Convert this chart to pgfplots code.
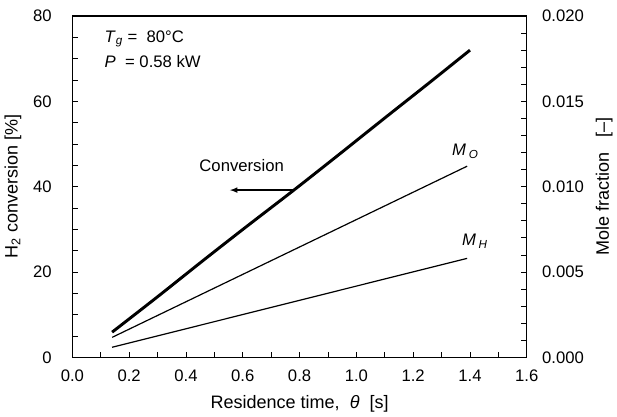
\documentclass[border=0pt]{standalone}
\usepackage{fontspec}
\setmainfont{Liberation Sans}
\usepackage{pgfplots}
\pgfplotsset{compat=1.18}

\begin{document}
\begin{tikzpicture}
\pgfplotsset{
  every axis/.append style={
    font=\fontsize{12.5}{14}\selectfont,
    scale only axis,
    width=340.5pt, height=255.75pt,
    xmin=0, xmax=1.6,
    tick align=inside,
    /pgf/number format/assume math mode=true,
    axis line style={line width=0.8pt},
    tick style={black, line width=0.6pt},
    major tick length=4pt, minor tick length=4pt,
    label style={font=\fontsize{13.5}{16}\selectfont},
  },
}
\begin{axis}[
  name=main,
  xtick pos=bottom, ytick pos=left,
  ymin=0, ymax=80,
  ytick={0,20,40,60,80},
  minor ytick={5,10,...,75},
  xtick={0,0.2,...,1.6},
  minor xtick={0.1,0.3,...,1.5},
  xticklabel style={yshift=-6pt, /pgf/number format/.cd, fixed, fixed zerofill, precision=1},
  yticklabel style={xshift=-12pt},
  xlabel={Residence time,\ \ \textit{θ}\ \ [s]},
  ylabel={H\textsubscript{2} conversion [\%]},
  xlabel style={yshift=-3pt},
  ylabel style={yshift=2pt},
]
\addplot[black, line width=2.2pt, smooth] coordinates {
  (0.14,5.9) (0.30,14.2) (0.47,23.2) (0.62,31.0) (0.78,39.2)
  (0.94,47.6) (1.10,56.1) (1.25,64.0) (1.40,72.0)
};
\draw[black, line width=0.9pt, -latex] (axis cs:0.779,39.2) -- (axis cs:0.555,39.2);
\node at (axis cs:0.596,45.0) {Conversion};
\node[anchor=west, inner sep=0pt] at (axis cs:0.113,74.6) {\textit{T}\textsubscript{\textit{g}} =\ \ 80\textdegree C};
\node[anchor=west, inner sep=0pt] at (axis cs:0.113,69.3) {\textit{P}\ \ = 0.58 kW};
\node[anchor=west, inner sep=0pt] at (axis cs:1.336,48.3) {\textit{M}\,\textsubscript{\textit{O}}};
\node[anchor=west, inner sep=0pt] at (axis cs:1.371,27.2) {\textit{M}\,\textsubscript{\textit{H}}};
\end{axis}
\begin{axis}[
  axis y line*=right, axis x line=none,
  ymin=0, ymax=0.020,
  ytick={0,0.005,0.010,0.015,0.020},
  minor ytick={0.001,0.002,...,0.019},
  scaled y ticks=false,
  yticklabel style={xshift=8pt, /pgf/number format/.cd, fixed, fixed zerofill, precision=3},
  ylabel={Mole fraction\ \ \ [--]},
  ylabel style={yshift=-2pt},
]
\addplot[black, line width=0.9pt] coordinates {(0.14,0.00117) (1.39,0.01120)};
\addplot[black, line width=0.9pt] coordinates {(0.14,0.00059) (1.39,0.00580)};
\end{axis}
\path (main.north west) ++(0,12pt) coordinate (pad);
\path (pad) -- ++(1pt,0);
\end{tikzpicture}
\end{document}
